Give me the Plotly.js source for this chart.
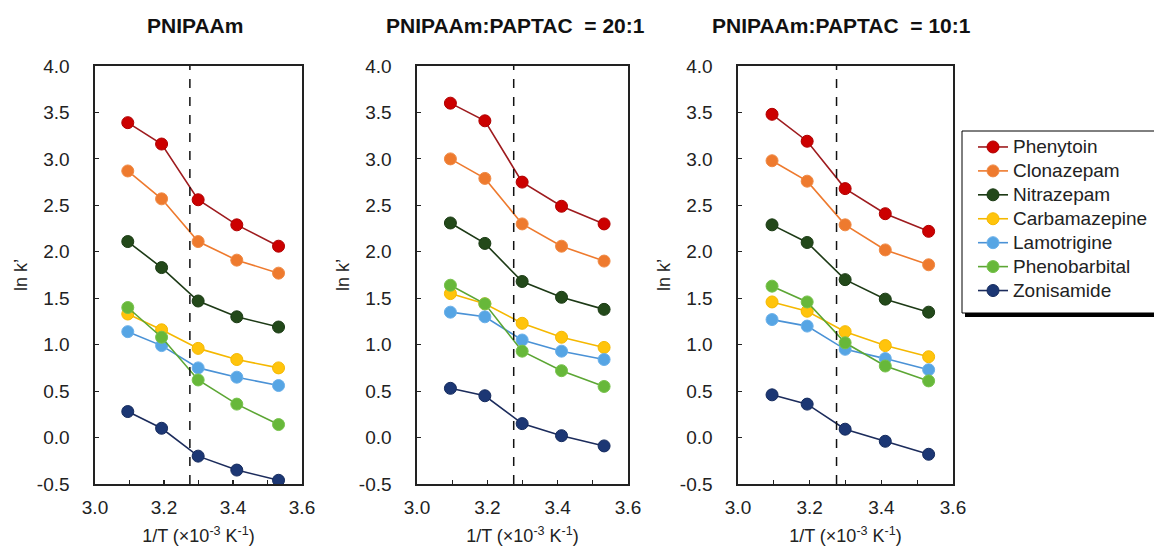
<!DOCTYPE html>
<html>
<head>
<meta charset="utf-8">
<script src="https://cdn.plot.ly/plotly-3.0.1.min.js"></script>
<style>
html,body{margin:0;padding:0;background:#fff;}
#chart{width:1154px;height:548px;}
</style>
</head>
<body>
<div id="chart"></div>
<script>
// ---- data ----
const invT = [3.095, 3.193, 3.299, 3.411, 3.532];
const drugs = ["Phenytoin", "Clonazepam", "Nitrazepam", "Carbamazepine", "Lamotrigine", "Phenobarbital", "Zonisamide"];
const panelTitles = ["PNIPAAm", "PNIPAAm:PAPTAC  = 20:1", "PNIPAAm:PAPTAC  = 10:1"];
const transitionX = 3.275;

// PNIPAAm
const p1_Phenytoin     = [3.39, 3.16, 2.56, 2.29, 2.06];
const p1_Clonazepam    = [2.87, 2.57, 2.11, 1.91, 1.77];
const p1_Nitrazepam    = [2.11, 1.83, 1.47, 1.30, 1.19];
const p1_Carbamazepine = [1.33, 1.16, 0.96, 0.84, 0.75];
const p1_Lamotrigine   = [1.14, 0.99, 0.75, 0.65, 0.56];
const p1_Phenobarbital = [1.40, 1.08, 0.62, 0.36, 0.14];
const p1_Zonisamide    = [0.28, 0.10, -0.20, -0.35, -0.46];

// PNIPAAm:PAPTAC = 20:1
const p2_Phenytoin     = [3.60, 3.41, 2.75, 2.49, 2.30];
const p2_Clonazepam    = [3.00, 2.79, 2.30, 2.06, 1.90];
const p2_Nitrazepam    = [2.31, 2.09, 1.68, 1.51, 1.38];
const p2_Carbamazepine = [1.55, 1.44, 1.23, 1.08, 0.97];
const p2_Lamotrigine   = [1.35, 1.30, 1.05, 0.93, 0.84];
const p2_Phenobarbital = [1.64, 1.44, 0.93, 0.72, 0.55];
const p2_Zonisamide    = [0.53, 0.45, 0.15, 0.02, -0.09];

// PNIPAAm:PAPTAC = 10:1
const p3_Phenytoin     = [3.48, 3.19, 2.68, 2.41, 2.22];
const p3_Clonazepam    = [2.98, 2.76, 2.29, 2.02, 1.86];
const p3_Nitrazepam    = [2.29, 2.10, 1.70, 1.49, 1.35];
const p3_Carbamazepine = [1.46, 1.36, 1.14, 0.99, 0.87];
const p3_Lamotrigine   = [1.27, 1.20, 0.95, 0.85, 0.73];
const p3_Phenobarbital = [1.63, 1.46, 1.02, 0.77, 0.61];
const p3_Zonisamide    = [0.46, 0.36, 0.09, -0.04, -0.18];

const xTickVals = [3.0, 3.1, 3.2, 3.3, 3.4, 3.5, 3.6];
const xTickText = ["3.0", "", "3.2", "", "3.4", "", "3.6"];
const yTickVals = [-0.5, 0.0, 0.5, 1.0, 1.5, 2.0, 2.5, 3.0, 3.5, 4.0];
const yTickText = ["-0.5", "0.0", "0.5", "1.0", "1.5", "2.0", "2.5", "3.0", "3.5", "4.0"];

const panels = [
  [p1_Phenytoin, p1_Clonazepam, p1_Nitrazepam, p1_Carbamazepine, p1_Lamotrigine, p1_Phenobarbital, p1_Zonisamide],
  [p2_Phenytoin, p2_Clonazepam, p2_Nitrazepam, p2_Carbamazepine, p2_Lamotrigine, p2_Phenobarbital, p2_Zonisamide],
  [p3_Phenytoin, p3_Clonazepam, p3_Nitrazepam, p3_Carbamazepine, p3_Lamotrigine, p3_Phenobarbital, p3_Zonisamide]
];

// ---- styles ----
const W = 1154, H = 548;
const markerColors = ["#CC0000", "#EE7A2E", "#23491A", "#FFC40C", "#56A5E4", "#67B83A", "#1C3774"];
const markerEdge   = ["#B00000", "#F08A45", "#1A3A13", "#F5B800", "#6AB0EA", "#77C24C", "#152B5E"];
const lineColors   = ["#9E1B1E", "#EE7A2E", "#1D3A16", "#F5B800", "#4A92D6", "#5CA634", "#1C2C5C"];
const font = "Liberation Sans, Arial, sans-serif";

const px = v => v / W;
const py = v => 1 - v / H;
const xDomains = [[px(95), px(302)], [px(417), px(628)], [px(738), px(953)]];
const yDomain = [py(484), py(66)];

const traces = [];
panels.forEach((series, p) => {
  const xa = p === 0 ? "x" : "x" + (p + 1);
  const ya = p === 0 ? "y" : "y" + (p + 1);
  series.forEach((vals, i) => {
    traces.push({
      type: "scatter", mode: "lines+markers",
      x: invT, y: vals,
      name: '<span style="font-size:19px">' + drugs[i] + '</span>',
      xaxis: xa, yaxis: ya,
      showlegend: p === 0,
      legendrank: i + 1,
      line: {color: lineColors[i], width: 1.6},
      marker: {size: 12, color: markerColors[i], line: {color: markerEdge[i], width: 1}}
    });
  });
});

const layout = {
  width: W, height: H,
  margin: {l: 0, r: 0, t: 0, b: 0, autoexpand: false},
  paper_bgcolor: "#ffffff", plot_bgcolor: "#ffffff",
  font: {family: font, size: 19, color: "#222"},
  showlegend: true,
  legend: {
    x: px(973), y: py(130), xanchor: "left", yanchor: "top",
    bgcolor: "rgba(0,0,0,0)", bordercolor: "rgba(0,0,0,0)", borderwidth: 0,
    font: {family: font, size: 16.1, color: "#222"},
    tracegroupgap: 0, traceorder: "normal"
  },
  shapes: [
    // legend shadow
    {type: "rect", xref: "paper", yref: "paper", x0: px(965), x1: px(1170), y0: py(317), y1: py(134),
     fillcolor: "#000", line: {width: 0}, layer: "below"},
    // legend box
    {type: "rect", xref: "paper", yref: "paper", x0: px(962), x1: px(1168), y0: py(313), y1: py(131),
     fillcolor: "#fff", line: {color: "#000", width: 1}, layer: "below"}
  ],
  annotations: []
};

for (let p = 0; p < 3; p++) {
  const xk = p === 0 ? "xaxis" : "xaxis" + (p + 1);
  const yk = p === 0 ? "yaxis" : "yaxis" + (p + 1);
  const yref = p === 0 ? "y" : "y" + (p + 1);
  const xref = p === 0 ? "x" : "x" + (p + 1);
  layout[xk] = {
    domain: xDomains[p], anchor: yref, range: [3.0, 3.6],
    tickvals: xTickVals, ticktext: xTickText,
    ticks: "inside", ticklen: 4, tickwidth: 1.2, tickcolor: "#222",
    ticklabelstandoff: 6,
    showline: true, mirror: true, linecolor: "#222", linewidth: 1.6,
    showgrid: false, zeroline: false, fixedrange: true,
    tickfont: {family: font, size: 19, color: "#222"},
    title: {text: "1/T (×10<sup>-3</sup> K<sup>-1</sup>)", font: {family: font, size: 18, color: "#222"}, standoff: 12}
  };
  layout[yk] = {
    domain: yDomain, anchor: xref, range: [-0.5, 4.0],
    tickvals: yTickVals, ticktext: yTickText,
    ticks: "inside", ticklen: 4, tickwidth: 1.2, tickcolor: "#222",
    ticklabelstandoff: 20,
    showline: true, mirror: true, linecolor: "#222", linewidth: 1.6,
    showgrid: false, zeroline: false, fixedrange: true,
    tickfont: {family: font, size: 19, color: "#222"},
    title: {text: "ln k’", font: {family: font, size: 18, color: "#222"}, standoff: 4}
  };
  layout.shapes.push({
    type: "line", xref: xref, yref: yref + " domain",
    x0: transitionX, x1: transitionX, y0: 0, y1: 1,
    line: {color: "#111", width: 1.5, dash: "dash"}
  });
  layout.annotations.push({
    text: "<b>" + panelTitles[p] + "</b>",
    xref: "paper", yref: "paper",
    x: px([195, 515, 842][p]), y: py(25),
    xanchor: "center", yanchor: "middle", showarrow: false,
    font: {family: font, size: 21, color: "#111"}
  });
}

Plotly.newPlot("chart", traces, layout, {displayModeBar: false, staticPlot: true});
</script>
</body>
</html>
